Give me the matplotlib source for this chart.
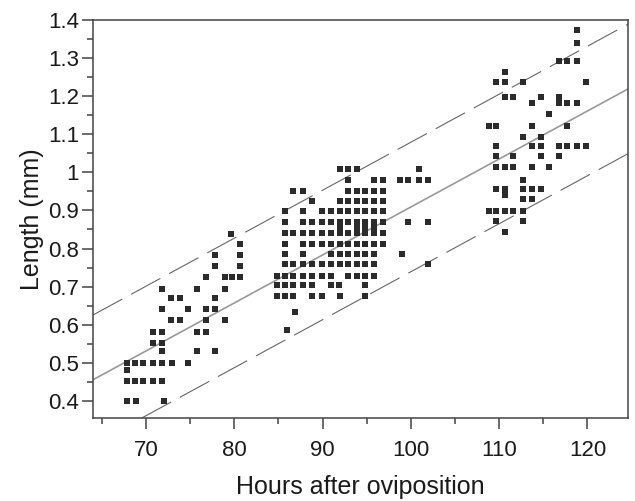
import matplotlib.pyplot as plt
from matplotlib.ticker import MultipleLocator

plt.rcParams['font.family'] = ['Liberation Sans', 'DejaVu Sans']

# lengths (mm) of each row of points, and the hours of the points in that row
early_len = [0.837, 0.812, 0.784, 0.755, 0.725, 0.694, 0.670, 0.641,
             0.613, 0.582, 0.553, 0.530, 0.499, 0.482, 0.451, 0.400]
early_hours = [
    [79.6],
    [80.7],
    [77.8, 80.7],
    [77.8, 80.7],
    [76.8, 78.9, 79.7, 80.7],
    [71.8, 75.8, 78.9],
    [72.8, 73.9, 77.8],
    [71.8, 74.8, 76.8, 77.8],
    [72.8, 73.9, 76.8, 78.9],
    [70.8, 71.8, 75.8, 76.8],
    [70.8, 71.8],
    [71.8, 75.8, 77.8],
    [67.8, 68.8, 69.7, 70.8, 71.8, 72.9, 74.8],
    [67.8],
    [67.8, 68.8, 69.7, 70.8, 71.8],
    [67.8, 68.9, 72.0],
]

mid_len = [1.010, 0.980, 0.952, 0.926, 0.898, 0.869, 0.855, 0.841, 0.813,
           0.786, 0.758, 0.727, 0.703, 0.674, 0.632, 0.585]
mid_hours = [
    [92.0, 92.9, 93.9, 100.9],
    [92.9, 95.8, 96.9, 98.8, 99.7, 100.9, 102.0],
    [86.7, 87.8, 92.9, 93.9, 94.8, 95.8, 96.9],
    [88.8, 92.0, 92.9, 93.9, 94.8, 95.8, 96.9],
    [85.8, 87.8, 89.9, 90.9, 92.0, 92.9, 93.9, 94.8, 95.8, 96.9],
    [85.8, 87.8, 88.8, 89.9, 90.9, 92.0, 92.9, 93.9, 94.8, 95.8, 96.9, 99.7, 101.9],
    [92.0, 93.9, 94.8, 95.8],
    [85.8, 86.7, 87.8, 88.8, 89.9, 90.9, 92.0, 92.9, 93.9, 94.8, 95.8, 96.9],
    [85.8, 87.8, 88.8, 89.9, 90.9, 92.0, 92.9, 93.9, 94.8, 95.8, 96.9],
    [85.8, 87.8, 90.9, 92.0, 92.9, 93.9, 94.8, 95.8, 99.0],
    [85.8, 86.7, 87.8, 88.8, 89.9, 90.9, 92.0, 92.9, 93.9, 94.8, 95.8, 102.0],
    [84.8, 85.8, 86.7, 87.8, 88.8, 89.9, 90.9, 92.9, 93.9, 94.8, 95.8],
    [84.8, 85.8, 86.7, 87.8, 88.8, 90.9, 91.9, 94.8],
    [84.8, 85.8, 86.7, 88.8, 89.9, 92.0, 94.8],
    [86.9],
    [86.0],
]

late_len = [1.375, 1.339, 1.293, 1.264, 1.236, 1.199, 1.183, 1.153, 1.122,
            1.094, 1.069, 1.043, 1.014, 0.981, 0.955, 0.940, 0.929, 0.898,
            0.872, 0.844]
late_hours = [
    [118.8],
    [118.8],
    [116.8, 117.7, 118.8],
    [110.7],
    [109.7, 110.7, 112.7, 119.8],
    [110.7, 111.6, 114.7, 116.8],
    [113.7, 116.8, 117.7, 118.8],
    [115.7],
    [108.8, 109.7, 113.7, 117.7],
    [112.7, 114.7],
    [109.7, 113.7, 114.7, 116.8, 117.7, 118.8, 119.8],
    [109.7, 111.6, 114.7, 116.8],
    [109.7, 110.7, 111.6, 113.7, 115.7],
    [112.7],
    [109.7, 110.7, 112.7, 113.7, 114.7],
    [110.7],
    [112.7, 113.7],
    [108.8, 109.7, 110.7, 111.6, 112.7],
    [109.7, 112.7],
    [110.7],
]

# regression line and the band around it
fit_intercept = -0.351
fit_slope = 0.0126
band = 0.17

x_ticks = [70, 80, 90, 100, 110, 120]
y_ticks = [0.4, 0.5, 0.6, 0.7, 0.8, 0.9, 1.0, 1.1, 1.2, 1.3, 1.4]
y_labels = ['0.4', '0.5', '0.6', '0.7', '0.8', '0.9', '1', '1.1', '1.2', '1.3', '1.4']

xs, ys = [], []
for levels, rows in ((early_len, early_hours), (mid_len, mid_hours), (late_len, late_hours)):
    for v, hrs in zip(levels, rows):
        xs += hrs
        ys += [v] * len(hrs)

fig = plt.figure(figsize=(6.35, 5.01), dpi=100)
ax = fig.add_axes([0.1465, 0.1657, 0.8425, 0.7944])

rect = [(-1.35, -1), (1.35, -1), (1.35, 1), (-1.35, 1), (-1.35, -1)]
ax.scatter(xs, ys, marker=rect, s=24, c='#2b2b2b', linewidths=0, zorder=3)

ax.axline((0, fit_intercept), slope=fit_slope, color='#999999', lw=1.2, zorder=2)
for off in (band, -band):
    ax.axline((0, fit_intercept + off), slope=fit_slope, color='#666666',
              lw=0.8, dashes=(30, 9), zorder=2)

ax.set_xlim(64.0, 124.6)
ax.set_ylim(0.355, 1.4)
ax.set_xticks(x_ticks)
ax.xaxis.set_minor_locator(MultipleLocator(5))
ax.set_yticks(y_ticks)
ax.set_yticklabels(y_labels)
ax.yaxis.set_minor_locator(MultipleLocator(0.05))

for s in ax.spines.values():
    s.set_color('#444444')
    s.set_linewidth(1.1)
ax.tick_params(which='major', direction='out', length=8, width=1.1, color='#444444',
               labelsize=16, labelcolor='#1a1a1a')
ax.tick_params(which='minor', direction='out', length=4, width=1.1, color='#444444')
ax.tick_params(axis='x', which='major', pad=8)
ax.tick_params(axis='y', which='major', pad=2)

ax.set_xlabel('Hours after oviposition', fontsize=18, color='#1a1a1a', labelpad=10)
ax.set_ylabel('Length (mm)', fontsize=18, color='#1a1a1a', labelpad=3)

fig.savefig('out.png', dpi=100)
